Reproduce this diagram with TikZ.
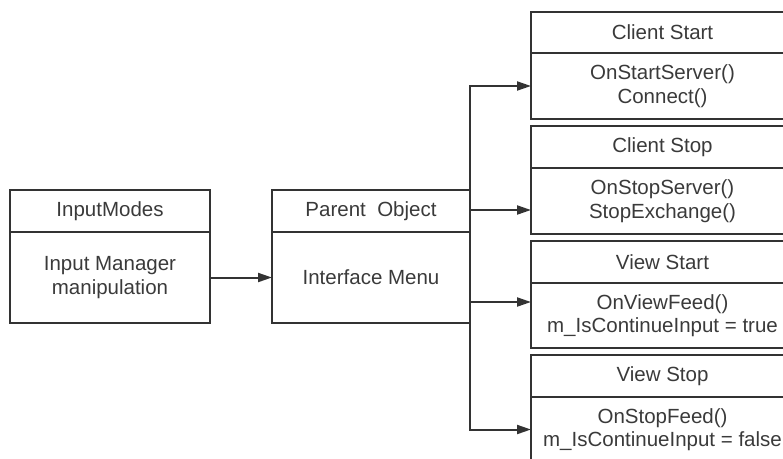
\documentclass[tikz,border=0pt]{standalone}
\usepackage{fontspec}
\setmainfont{Liberation Sans}
\usetikzlibrary{arrows.meta}
\definecolor{linegray}{HTML}{333333}
\definecolor{textgray}{HTML}{3A3A3A}

\begin{document}
\begin{tikzpicture}[x=1pt, y=-1pt,
        box/.style={rectangle, draw=linegray, line width=2pt, outer sep=0pt, inner sep=0pt, text=textgray, font=\fontsize{20.5}{23.5}\selectfont, align=center},
        lhead/.style={box, minimum width=200pt, minimum height=42pt},
        lbody/.style={box, minimum width=200pt, minimum height=91pt},
        rhead/.style={box, minimum width=263pt, minimum height=42pt},
        rbody/.style={box, minimum width=263pt, minimum height=66pt},
        conn/.style={draw=linegray, line width=2pt, -{Triangle[length=14pt, width=9pt]}}
    ]
        \clip (0,0) rectangle (783,458);

        \node[lhead] (imh) at (110,211) {InputModes};
        \node[lbody] (imb) at (110,277.5) {Input Manager\\manipulation};

        \node[lhead, minimum width=198pt] (poh) at (371,211) {Parent\ \ Object};
        \node[lbody, minimum width=198pt] (pob) at (371,277.5) {Interface Menu};

        \node[rhead, minimum height=41pt] (csh) at (662.5,32.5) {Client Start};
        \node[rbody] (csb) at (662.5,86) {OnStartServer()\\Connect()};

        \node[rhead] (cth) at (662.5,147) {Client Stop};
        \node[rbody] (ctb) at (662.5,201) {OnStopServer()\\StopExchange()};

        \node[rhead] (vsh) at (662.5,262) {View Start};
        \node[rbody, minimum height=65pt] (vsb) at (662.5,315.5) {OnViewFeed()\\m\_IsContinueInput = true};

        \node[rhead] (vph) at (662.5,376) {View Stop};
        \node[rbody, minimum height=65pt] (vpb) at (662.5,429.5) {OnStopFeed()\\m\_IsContinueInput = false};

        \coordinate (t2) at (470,210);
        \coordinate (t3) at (470,302);

        \draw[conn] (imb.east) -- (pob.west);
        \draw[conn] (poh.north east) |- (csb.west);
        \draw[conn] (t2) -- (t2 -| ctb.west);
        \draw[conn] (t3) -- (t3 -| vsb.west);
        \draw[conn] (pob.south east) |- (vpb.west);
    \end{tikzpicture}
\end{document}
